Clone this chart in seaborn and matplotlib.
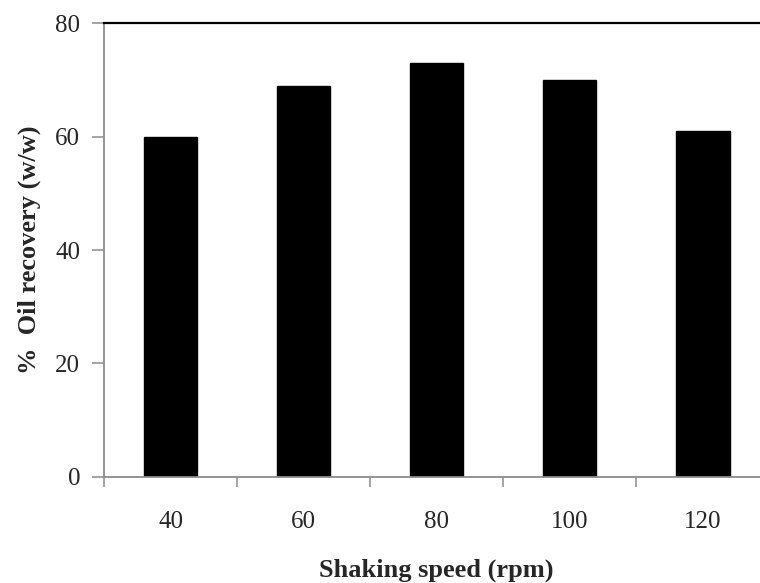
import matplotlib
matplotlib.use("Agg")
import matplotlib.pyplot as plt
import seaborn as sns
import pandas as pd
from matplotlib.ticker import FixedLocator

# shaking speed vs oil recovery
speeds = ["40", "60", "80", "100", "120"]
recovery = [60, 69, 73, 70, 61]
yticks = [0, 20, 40, 60, 80]

sns.set_style("ticks")
plt.rcParams['font.family'] = ['Liberation Serif', 'DejaVu Serif']

df = pd.DataFrame({"speed": speeds, "recovery": recovery})

fig = plt.figure(figsize=(7.6, 5.83), dpi=100)
ax = fig.add_axes([0.1368, 0.1823, 0.8757, 0.7777])

sns.barplot(data=df, x="speed", y="recovery", color="black", width=0.4,
            saturation=1, edgecolor="black", ax=ax)

ax.set_xlim(-0.5, len(speeds) - 0.5)
ax.set_ylim(yticks[0], yticks[-1])
ax.set_yticks(yticks)

# category boundary ticks on the x axis, labels at the centres
ax.xaxis.set_minor_locator(FixedLocator([i - 0.5 for i in range(len(speeds) + 1)]))
ax.tick_params(axis='x', which='major', length=0, pad=25, labelsize=18)
ax.tick_params(axis='x', which='minor', length=7, width=1.1, color="#8c8c8c", direction="out")
ax.tick_params(axis='y', length=9, width=1.1, color="#8c8c8c", pad=8, labelsize=18)

for side in ["left", "bottom"]:
    ax.spines[side].set_color("#8c8c8c")
    ax.spines[side].set_linewidth(1.3)
ax.spines["top"].set_visible(True)
ax.spines["top"].set_color("black")
ax.spines["top"].set_linewidth(1.6)
ax.spines["right"].set_visible(False)

ax.set_xlabel("Shaking speed (rpm)", fontsize=19, fontweight="bold", labelpad=18)
ax.set_ylabel("%  Oil recovery (w/w)", fontsize=19, fontweight="bold", labelpad=10)
ax.grid(False)

fig.savefig("out.png", dpi=100)
